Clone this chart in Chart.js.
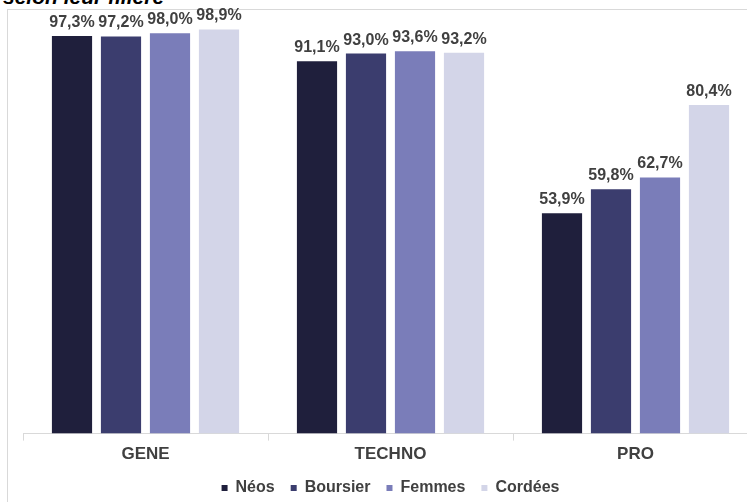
<!DOCTYPE html>
<html>
<head>
<meta charset="utf-8">
<script src="https://cdn.jsdelivr.net/npm/chart.js@4/dist/chart.umd.min.js"></script>
<style>
  html, body { margin: 0; padding: 0; background: #fff; overflow: hidden; width: 747px; height: 502px; }
  #frame { position: absolute; left: 7px; top: 9px; width: 1000px; height: 1000px; border: 1px solid #d9d9d9; box-sizing: border-box; }
  #title { position: absolute; left: 3px; top: -14px; font: italic bold 21px "Liberation Sans", Arial, sans-serif; line-height: 21px; color: #000; white-space: nowrap; }
  #c { position: absolute; left: 0; top: 0; }
</style>
</head>
<body>
<div id="frame"></div>
<div id="title">selon leur filière</div>
<canvas id="c" width="760" height="502"></canvas>
<script>
const categories = ["GENE", "TECHNO", "PRO"];
const seriesNames = ["Néos", "Boursier", "Femmes", "Cordées"];
const neos = [97.3, 91.1, 53.9];
const boursier = [97.2, 93.0, 59.8];
const femmes = [98.0, 93.6, 62.7];
const cordees = [98.9, 93.2, 80.4];
const seriesColors = ["#1f1f3c", "#3b3d6e", "#7a7db9", "#d3d5e8"];

const textColor = "#404040";
const fontFamily = '"Liberation Sans", Arial, sans-serif';

const valueLabels = {
  id: 'valueLabels',
  afterDatasetsDraw(chart) {
    const ctx = chart.ctx;
    ctx.save();
    ctx.font = 'bold 16px ' + fontFamily;
    ctx.fillStyle = textColor;
    ctx.textAlign = 'center';
    ctx.textBaseline = 'alphabetic';
    chart.data.datasets.forEach((ds, i) => {
      const meta = chart.getDatasetMeta(i);
      meta.data.forEach((el, j) => {
        const txt = ds.data[j].toFixed(1).replace('.', ',') + '%';
        ctx.fillText(txt, el.x, el.y - 9);
      });
    });
    ctx.restore();
  }
};

const allSeries = [neos, boursier, femmes, cordees];
new Chart(document.getElementById('c'), {
  type: 'bar',
  data: {
    labels: categories,
    datasets: allSeries.map((d, i) => ({
      label: seriesNames[i],
      data: d,
      backgroundColor: seriesColors[i],
      borderWidth: 0,
      categoryPercentage: 0.8,
      barPercentage: 0.82
    }))
  },
  options: {
    responsive: false,
    animation: false,
    devicePixelRatio: 1,
    layout: { padding: { left: 23, right: 2, top: 25, bottom: -4 } },
    plugins: {
      legend: {
        position: 'bottom',
        labels: {
          boxWidth: 6,
          boxHeight: 6,
          padding: 16,
          color: textColor,
          font: { family: fontFamily, size: 16, weight: 'bold' }
        }
      },
      tooltip: { enabled: false },
      title: { display: false }
    },
    scales: {
      x: {
        offset: true,
        afterFit(scale) { scale.height -= 5; },
        border: { display: true, color: '#d9d9d9', width: 1 },
        grid: { display: true, drawOnChartArea: false, drawTicks: true, tickLength: 7, color: '#d9d9d9', offset: true },
        ticks: { color: textColor, padding: 4, font: { family: fontFamily, size: 17, weight: 'bold' } }
      },
      y: {
        display: false,
        min: 0,
        max: 100
      }
    }
  },
  plugins: [valueLabels]
});
</script>
</body>
</html>
